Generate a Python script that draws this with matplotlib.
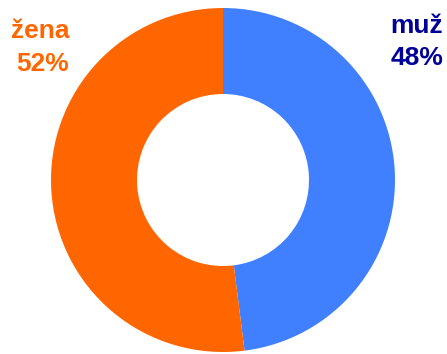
import matplotlib.pyplot as plt

# gender split
labels = ["muž", "žena"]
shares = [48, 52]
colors = ["#4080ff", "#ff6600"]
text_colors = ["#000099", "#ff6600"]

W, H = 447, 354
fig = plt.figure(figsize=(W / 100, H / 100), dpi=100)
ax = fig.add_axes([0, 0, 1, 1])

ax.pie(shares, colors=colors, startangle=90, counterclock=False,
       center=(223, H - 180), radius=172,
       wedgeprops=dict(width=86, edgecolor="none"))

# pie() resets the limits, so fix them afterwards (1 unit = 1 pixel)
ax.set_xlim(0, W)
ax.set_ylim(0, H)
ax.set_aspect("equal")
ax.axis("off")

font = dict(family=["Liberation Sans Narrow", "Liberation Sans", "DejaVu Sans"],
            fontweight="bold", fontsize=19, ha="center", va="baseline")

# right-hand label (muž)
fig.text(417 / W, 1 - 33 / H, labels[0], color=text_colors[0], **font)
fig.text(417 / W, 1 - 65 / H, f"{shares[0]}%", color=text_colors[0], **font)

# left-hand label (žena)
fig.text(40 / W, 1 - 38 / H, labels[1], color=text_colors[1], **font)
fig.text(43 / W, 1 - 71 / H, f"{shares[1]}%", color=text_colors[1], **font)

fig.savefig("out.png", dpi=100)
